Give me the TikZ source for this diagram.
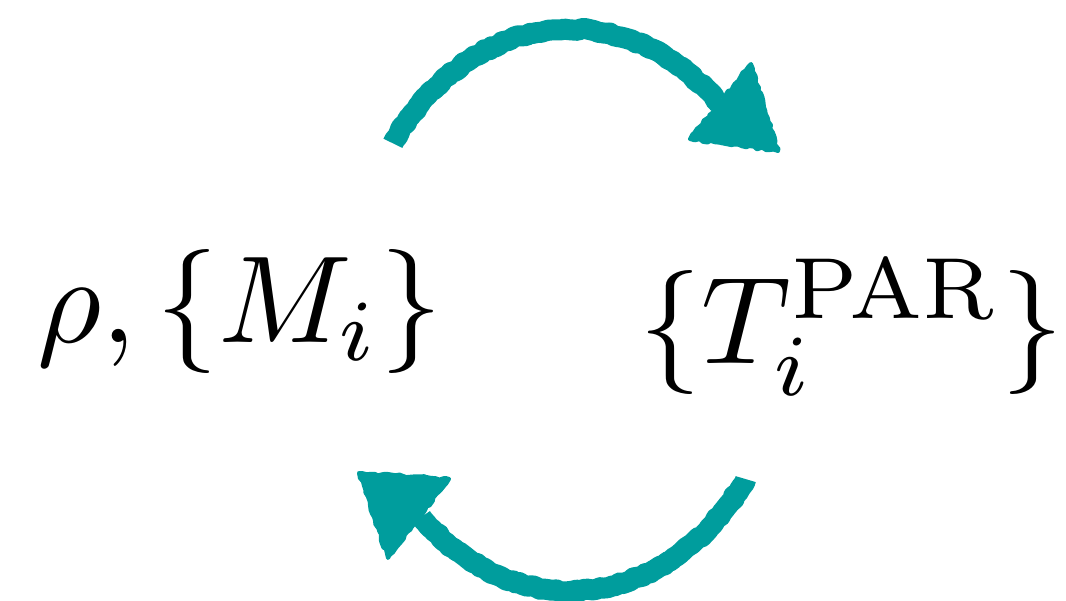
\documentclass[tikz,border=0pt]{standalone}
\usetikzlibrary{decorations.pathmorphing}
\definecolor{cyc}{RGB}{0,157,157}
\begin{document}
\begin{tikzpicture}[x=1pt,y=-1pt,
  rough/.style={decorate,decoration={random steps,segment length=4pt,amplitude=1.2pt}},
  shaft/.style={draw=cyc,line width=21pt,line join=round,rough},
  head/.style={fill=cyc,draw=cyc,line width=4pt,line join=round,rough},
  label/.style={inner sep=0pt,anchor=base west,scale=12.4}]
\useasboundingbox (0,0) rectangle (1066,600);
\pgfmathsetseed{7}
% labels
\node[label] (left) at (35,342) {$\rho, \{M_i\}$};
\node[label] (right) at (637,363) {$\{T_i^{\mathrm{PAR}}\}$};
% top arrow (elliptic arc round (570,310))
\coordinate (ts) at (392.9,143.3);
\coordinate (ta) at (690,139);
\coordinate (tb) at (751,64);
\coordinate (tt) at (778,151);
\draw[shaft] (ts) arc[start angle=216.4, end angle=312.5, x radius=220, y radius=281] coordinate (te);
\draw[head] (ta) -- (tb) -- (tt) -- cycle;
% bottom arrow
\coordinate (bs) at (745.7,479.1);
\coordinate (ba) at (449,479);
\coordinate (bb) at (388,558);
\coordinate (bt) at (359,473);
\draw[shaft] (bs) arc[start angle=37, end angle=132.5, x radius=220, y radius=281] coordinate (be);
\draw[head] (ba) -- (bb) -- (bt) -- cycle;
\end{tikzpicture}
\end{document}
